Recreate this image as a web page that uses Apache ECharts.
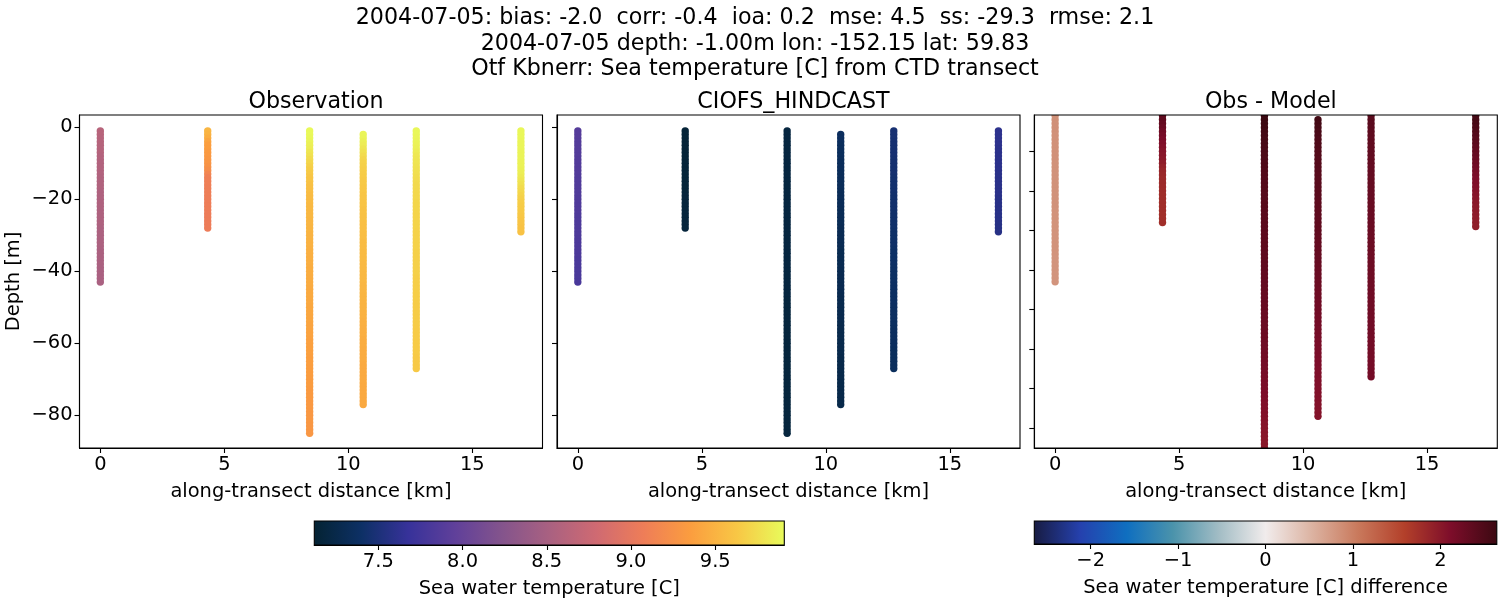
<!DOCTYPE html>
<html>
<head>
<meta charset="utf-8">
<style>html,body{margin:0;padding:0;background:#fff}#chart{width:1500px;height:600px}</style>
<script src="https://cdn.jsdelivr.net/npm/echarts@6/dist/echarts.min.js"></script>
</head>
<body>
<div id="chart"></div>
<script>
const headerLines = [
  '2004-07-05: bias: -2.0  corr: -0.4  ioa: 0.2  mse: 4.5  ss: -29.3  rmse: 2.1',
  '2004-07-05 depth: -1.00m lon: -152.15 lat: 59.83',
  'Otf Kbnerr: Sea temperature [C] from CTD transect'
];
const panelTitles = ['Observation', 'CIOFS_HINDCAST', 'Obs - Model'];

const xTicks = [0, 5, 10, 15];
const yTicks = [-80, -60, -40, -20, 0];
const diffYTicks = [-80, -70, -60, -50, -40, -30, -20, -10];
const tempTicks = [7.5, 8.0, 8.5, 9.0, 9.5];
const diffTicks = [-2, -1, 0, 1, 2];

// along-transect distance of each cast [km]
const distances = [0, 4.33, 8.44, 10.6, 12.74, 16.96];

const depth0 = [
  -1,-2,-3,-4,-5,-6,-7,-8,-9,-10,
  -11,-12,-13,-14,-15,-16,-17,-18,-19,-20,
  -21,-22,-23,-24,-25,-26,-27,-28,-29,-30,
  -31,-32,-33,-34,-35,-36,-37,-38,-39,-40,
  -41,-42,-43
];
const depth1 = [
  -1,-2,-3,-4,-5,-6,-7,-8,-9,-10,
  -11,-12,-13,-14,-15,-16,-17,-18,-19,-20,
  -21,-22,-23,-24,-25,-26,-27,-28
];
const depth2 = [
  -1,-2,-3,-4,-5,-6,-7,-8,-9,-10,
  -11,-12,-13,-14,-15,-16,-17,-18,-19,-20,
  -21,-22,-23,-24,-25,-26,-27,-28,-29,-30,
  -31,-32,-33,-34,-35,-36,-37,-38,-39,-40,
  -41,-42,-43,-44,-45,-46,-47,-48,-49,-50,
  -51,-52,-53,-54,-55,-56,-57,-58,-59,-60,
  -61,-62,-63,-64,-65,-66,-67,-68,-69,-70,
  -71,-72,-73,-74,-75,-76,-77,-78,-79,-80,
  -81,-82,-83,-84,-85
];
const depth3 = [
  -2,-3,-4,-5,-6,-7,-8,-9,-10,-11,
  -12,-13,-14,-15,-16,-17,-18,-19,-20,-21,
  -22,-23,-24,-25,-26,-27,-28,-29,-30,-31,
  -32,-33,-34,-35,-36,-37,-38,-39,-40,-41,
  -42,-43,-44,-45,-46,-47,-48,-49,-50,-51,
  -52,-53,-54,-55,-56,-57,-58,-59,-60,-61,
  -62,-63,-64,-65,-66,-67,-68,-69,-70,-71,
  -72,-73,-74,-75,-76,-77
];
const depth4 = [
  -1,-2,-3,-4,-5,-6,-7,-8,-9,-10,
  -11,-12,-13,-14,-15,-16,-17,-18,-19,-20,
  -21,-22,-23,-24,-25,-26,-27,-28,-29,-30,
  -31,-32,-33,-34,-35,-36,-37,-38,-39,-40,
  -41,-42,-43,-44,-45,-46,-47,-48,-49,-50,
  -51,-52,-53,-54,-55,-56,-57,-58,-59,-60,
  -61,-62,-63,-64,-65,-66,-67
];
const depth5 = [
  -1,-2,-3,-4,-5,-6,-7,-8,-9,-10,
  -11,-12,-13,-14,-15,-16,-17,-18,-19,-20,
  -21,-22,-23,-24,-25,-26,-27,-28,-29
];

const obs0 = [
  8.62,8.62,8.61,8.61,8.60,8.60,8.60,8.59,8.59,8.58,
  8.58,8.58,8.58,8.57,8.57,8.57,8.57,8.56,8.56,8.56,
  8.56,8.56,8.55,8.55,8.55,8.55,8.55,8.54,8.54,8.54,
  8.54,8.54,8.54,8.53,8.53,8.53,8.53,8.53,8.52,8.52,
  8.52,8.52,8.52
];
const obs1 = [
  9.52,9.50,9.46,9.40,9.36,9.35,9.33,9.32,9.30,9.28,
  9.26,9.22,9.15,9.10,9.09,9.09,9.08,9.08,9.08,9.07,
  9.07,9.07,9.07,9.06,9.06,9.06,9.06,9.06
];
const obs2 = [
  9.90,9.90,9.89,9.87,9.85,9.83,9.80,9.77,9.74,9.71,
  9.68,9.66,9.64,9.62,9.61,9.59,9.58,9.57,9.56,9.55,
  9.55,9.54,9.54,9.53,9.53,9.52,9.52,9.51,9.51,9.50,
  9.50,9.49,9.49,9.48,9.48,9.47,9.47,9.47,9.46,9.46,
  9.46,9.45,9.45,9.45,9.44,9.44,9.44,9.43,9.43,9.42,
  9.42,9.42,9.41,9.41,9.40,9.40,9.39,9.39,9.38,9.38,
  9.37,9.37,9.37,9.36,9.36,9.36,9.35,9.35,9.35,9.34,
  9.34,9.34,9.33,9.33,9.33,9.32,9.32,9.32,9.31,9.31,
  9.31,9.31,9.30,9.30,9.30
];
const obs3 = [
  9.88,9.87,9.85,9.83,9.80,9.77,9.74,9.71,9.69,9.68,
  9.67,9.66,9.65,9.64,9.64,9.63,9.63,9.62,9.62,9.61,
  9.61,9.60,9.60,9.59,9.59,9.58,9.58,9.58,9.57,9.57,
  9.56,9.56,9.56,9.55,9.55,9.55,9.54,9.54,9.54,9.53,
  9.53,9.53,9.52,9.52,9.52,9.51,9.51,9.50,9.50,9.50,
  9.49,9.49,9.48,9.48,9.47,9.47,9.47,9.46,9.46,9.46,
  9.45,9.45,9.45,9.45,9.44,9.44,9.44,9.44,9.44,9.44,
  9.43,9.43,9.43,9.43,9.43,9.43
];
const obs4 = [
  9.89,9.89,9.88,9.87,9.86,9.85,9.83,9.81,9.80,9.79,
  9.78,9.77,9.76,9.75,9.74,9.73,9.73,9.72,9.72,9.72,
  9.71,9.71,9.71,9.70,9.70,9.70,9.70,9.70,9.69,9.69,
  9.69,9.69,9.69,9.69,9.68,9.68,9.68,9.68,9.68,9.68,
  9.68,9.67,9.67,9.67,9.67,9.67,9.67,9.67,9.66,9.66,
  9.66,9.66,9.66,9.66,9.66,9.65,9.65,9.65,9.65,9.65,
  9.65,9.65,9.65,9.64,9.64,9.64,9.64
];
const obs5 = [
  9.89,9.89,9.89,9.88,9.88,9.88,9.87,9.87,9.87,9.86,
  9.86,9.85,9.84,9.82,9.79,9.77,9.74,9.72,9.70,9.68,
  9.67,9.66,9.65,9.64,9.63,9.62,9.61,9.60,9.60
];

const model0 = [
  7.88,7.88,7.88,7.87,7.87,7.87,7.87,7.87,7.86,7.86,
  7.86,7.86,7.86,7.85,7.85,7.85,7.85,7.85,7.85,7.84,
  7.84,7.84,7.84,7.84,7.83,7.83,7.83,7.83,7.83,7.83,
  7.82,7.82,7.82,7.82,7.82,7.82,7.81,7.81,7.81,7.81,
  7.81,7.81,7.80
];
const model1 = [
  7.15,7.15,7.15,7.15,7.15,7.15,7.15,7.15,7.15,7.16,
  7.16,7.16,7.16,7.16,7.16,7.16,7.16,7.16,7.17,7.17,
  7.17,7.17,7.17,7.17,7.17,7.17,7.17,7.17
];
const model2 = [
  7.19,7.19,7.19,7.19,7.19,7.19,7.19,7.19,7.19,7.19,
  7.19,7.19,7.19,7.19,7.19,7.19,7.19,7.19,7.19,7.19,
  7.19,7.19,7.19,7.19,7.19,7.19,7.19,7.19,7.19,7.19,
  7.19,7.19,7.19,7.19,7.19,7.19,7.19,7.19,7.19,7.19,
  7.19,7.19,7.19,7.19,7.19,7.19,7.19,7.18,7.18,7.18,
  7.18,7.18,7.18,7.18,7.18,7.18,7.18,7.18,7.18,7.18,
  7.18,7.18,7.18,7.18,7.18,7.18,7.18,7.18,7.18,7.18,
  7.18,7.18,7.18,7.18,7.18,7.18,7.18,7.18,7.18,7.18,
  7.18,7.18,7.18,7.18,7.18
];
const model3 = [
  7.36,7.36,7.36,7.35,7.35,7.35,7.35,7.34,7.34,7.34,
  7.34,7.33,7.33,7.33,7.33,7.33,7.32,7.32,7.32,7.32,
  7.32,7.31,7.31,7.31,7.31,7.31,7.30,7.30,7.30,7.30,
  7.30,7.30,7.29,7.29,7.29,7.29,7.29,7.29,7.28,7.28,
  7.28,7.28,7.28,7.28,7.28,7.27,7.27,7.27,7.27,7.27,
  7.27,7.27,7.27,7.26,7.26,7.26,7.26,7.26,7.26,7.26,
  7.26,7.26,7.25,7.25,7.25,7.25,7.25,7.25,7.25,7.25,
  7.25,7.25,7.25,7.25,7.25,7.25
];
const model4 = [
  7.47,7.47,7.47,7.46,7.46,7.46,7.46,7.46,7.45,7.45,
  7.45,7.45,7.45,7.44,7.44,7.44,7.44,7.44,7.43,7.43,
  7.43,7.43,7.43,7.42,7.42,7.42,7.42,7.42,7.41,7.41,
  7.41,7.41,7.41,7.40,7.40,7.40,7.40,7.40,7.39,7.39,
  7.39,7.39,7.39,7.38,7.38,7.38,7.38,7.38,7.38,7.37,
  7.37,7.37,7.37,7.37,7.37,7.36,7.36,7.36,7.36,7.36,
  7.36,7.35,7.35,7.35,7.35,7.35,7.35
];
const model5 = [
  7.61,7.61,7.61,7.61,7.61,7.60,7.60,7.60,7.60,7.60,
  7.60,7.60,7.59,7.59,7.59,7.59,7.59,7.59,7.59,7.58,
  7.58,7.58,7.58,7.58,7.58,7.58,7.57,7.57,7.57
];

const diff0 = [
  0.85,0.85,0.85,0.85,0.85,0.84,0.84,0.84,0.84,0.84,
  0.84,0.84,0.83,0.83,0.83,0.83,0.83,0.83,0.83,0.83,
  0.83,0.83,0.83,0.83,0.82,0.82,0.82,0.82,0.82,0.82,
  0.82,0.82,0.82,0.82,0.82,0.82,0.81,0.81,0.81,0.81,
  0.81,0.81,0.81
];
const diff1 = [
  2.38,2.36,2.32,2.28,2.22,2.18,2.14,2.10,2.07,2.04,
  2.02,2.00,1.95,1.90,1.86,1.84,1.82,1.81,1.80,1.79,
  1.78,1.78,1.77,1.77,1.77,1.76,1.76,1.76
];
const diff2 = [
  2.65,2.65,2.64,2.62,2.60,2.58,2.56,2.55,2.53,2.52,
  2.51,2.50,2.49,2.48,2.47,2.46,2.45,2.45,2.44,2.44,
  2.43,2.43,2.42,2.42,2.41,2.41,2.40,2.40,2.39,2.39,
  2.38,2.38,2.37,2.37,2.36,2.36,2.35,2.35,2.34,2.34,
  2.33,2.33,2.32,2.32,2.31,2.31,2.30,2.30,2.29,2.29,
  2.28,2.28,2.27,2.26,2.26,2.25,2.24,2.24,2.23,2.22,
  2.21,2.20,2.20,2.19,2.18,2.17,2.16,2.15,2.14,2.13,
  2.12,2.11,2.10,2.09,2.08,2.07,2.06,2.05,2.04,2.03,
  2.02,2.01,2.00,2.00,1.99
];
const diff3 = [
  2.60,2.58,2.56,2.54,2.52,2.50,2.49,2.48,2.47,2.46,
  2.45,2.44,2.44,2.43,2.42,2.42,2.41,2.41,2.40,2.40,
  2.39,2.38,2.38,2.37,2.37,2.36,2.36,2.35,2.35,2.34,
  2.33,2.33,2.32,2.32,2.31,2.30,2.30,2.29,2.28,2.28,
  2.27,2.26,2.26,2.25,2.24,2.24,2.23,2.22,2.22,2.21,
  2.20,2.20,2.19,2.18,2.18,2.17,2.16,2.15,2.15,2.14,
  2.13,2.12,2.12,2.11,2.10,2.10,2.09,2.09,2.08,2.08,
  2.07,2.07,2.06,2.06,2.05,2.05
];
const diff4 = [
  2.40,2.40,2.39,2.39,2.38,2.37,2.36,2.35,2.35,2.34,
  2.34,2.33,2.33,2.32,2.32,2.32,2.31,2.31,2.31,2.30,
  2.30,2.30,2.29,2.29,2.29,2.28,2.28,2.28,2.27,2.27,
  2.27,2.26,2.26,2.26,2.26,2.25,2.25,2.25,2.25,2.24,
  2.24,2.24,2.24,2.23,2.23,2.23,2.23,2.22,2.22,2.22,
  2.22,2.22,2.21,2.21,2.21,2.21,2.21,2.20,2.20,2.20,
  2.20,2.20,2.19,2.19,2.19,2.19,2.19
];
const diff5 = [
  2.58,2.56,2.54,2.51,2.48,2.45,2.42,2.39,2.36,2.33,
  2.30,2.27,2.24,2.21,2.18,2.15,2.12,2.10,2.08,2.06,
  2.04,2.02,2.00,1.98,1.97,1.96,1.95,1.94,1.93
];

const depths = [depth0, depth1, depth2, depth3, depth4, depth5];
const panelValues = [
  [obs0, obs1, obs2, obs3, obs4, obs5],
  [model0, model1, model2, model3, model4, model5],
  [diff0, diff1, diff2, diff3, diff4, diff5]
];

const tempRange = [7.12, 9.91];
const diffRange = [-2.645, 2.645];

const thermal = ['#042333', '#0d3065', '#37329a', '#60409a', '#84548c', '#a96181',
  '#cf6a72', '#ee7d58', '#fb9d3f', '#f8c745', '#e8fb5b'];
const balance = ['#181c43', '#2541ae', '#0f6fc0', '#4b93ab', '#a3bdc5', '#f1ecec',
  '#dcb3a2', '#c9795c', '#b3402a', '#7d0d2a', '#3c0912'];

const font = 'DejaVu Sans';
const axisStyle = { color: '#000', width: 1.1 };
const textBase = { fontFamily: font, fontSize: 19.44, color: '#000' };

function tickLabel(v) {
  return String(v).replace('-', '\u2212');
}

// circles go through a custom series because scatter does not clip at the frame
function renderDot(params, api) {
  const p = api.coord([api.value(0), api.value(1)]);
  return {
    type: 'circle',
    shape: { cx: p[0], cy: p[1], r: 3.7 },
    style: { fill: api.visual('color') }
  };
}

function makeOption() {
  const grids = [];
  const xAxes = [];
  const yAxes = [];
  const series = [];
  const panelLeft = [79.5, 557, 1034.3];

  panelValues.forEach((cols, p) => {
    grids.push({ left: panelLeft[p], top: 115, width: 463, height: 333, show: true,
      borderColor: '#000', borderWidth: 1.1, z: 5 });
    xAxes.push({
      gridIndex: p, type: 'value', min: -0.84, max: 17.83, splitLine: { show: false },
      axisLine: { onZero: false, lineStyle: axisStyle },
      axisTick: { length: 5, lineStyle: axisStyle, customValues: xTicks },
      axisLabel: Object.assign({ customValues: xTicks, formatter: tickLabel, margin: 7 }, textBase),
      name: 'along-transect distance [km]', nameLocation: 'middle', nameGap: 34,
      nameTextStyle: textBase
    });
    const isDiff = p === 2;
    const ticks = isDiff ? diffYTicks : yTicks;
    yAxes.push({
      gridIndex: p, type: 'value', min: isDiff ? -85 : -89.08, max: isDiff ? -0.83 : 3.42,
      splitLine: { show: false }, axisLine: { onZero: false, lineStyle: axisStyle },
      axisTick: { length: 5, lineStyle: axisStyle, customValues: ticks },
      axisLabel: Object.assign({ show: p === 0, customValues: ticks, formatter: tickLabel, margin: 7 }, textBase),
      name: p === 0 ? 'Depth [m]' : '', nameLocation: 'middle', nameGap: 56,
      nameTextStyle: textBase
    });
    const rows = [];
    cols.forEach((vals, c) => {
      vals.forEach((v, i) => rows.push([distances[c], depths[c][i], v]));
    });
    series.push({
      type: 'custom', xAxisIndex: p, yAxisIndex: p, data: rows, renderItem: renderDot,
      encode: { x: 0, y: 1 }, clip: true, silent: true, animation: false
    });
  });

  // colour bars
  const bars = [
    { left: 314.3, width: 470, top: 521, height: 24, range: tempRange, ticks: tempTicks, colors: thermal,
      name: 'Sea water temperature [C]' },
    { left: 1034.3, width: 462.5, top: 521, height: 23, range: diffRange, ticks: diffTicks, colors: balance,
      name: 'Sea water temperature [C] difference' }
  ];
  bars.forEach((b, i) => {
    const idx = 3 + i;
    grids.push({ left: b.left, top: b.top, width: b.width, height: b.height, show: true,
      borderColor: '#000', borderWidth: 1.1, z: 5 });
    xAxes.push({
      gridIndex: idx, type: 'value', min: b.range[0], max: b.range[1], splitLine: { show: false },
      axisLine: { onZero: false, lineStyle: axisStyle },
      axisTick: { length: 5, lineStyle: axisStyle, customValues: b.ticks },
      axisLabel: Object.assign({ customValues: b.ticks, margin: 7,
        formatter: v => tickLabel(i === 0 ? v.toFixed(1) : v) }, textBase),
      name: b.name, nameLocation: 'middle', nameGap: 34,
      nameTextStyle: textBase
    });
    yAxes.push({ gridIndex: idx, type: 'value', min: 0, max: 1, show: false });
    series.push({
      type: 'custom', xAxisIndex: idx, yAxisIndex: idx, silent: true, animation: false,
      data: [[b.range[0], 0, b.range[1], 1]],
      renderItem: (params, api) => {
        const a = api.coord([api.value(0), api.value(1)]);
        const c = api.coord([api.value(2), api.value(3)]);
        return {
          type: 'rect',
          shape: { x: a[0], y: c[1], width: c[0] - a[0], height: a[1] - c[1] },
          style: {
            fill: new echarts.graphic.LinearGradient(0, 0, 1, 0,
              b.colors.map((color, k) => ({ offset: k / (b.colors.length - 1), color })))
          }
        };
      }
    });
  });

  const titles = headerLines.map((text, i) => ({
    text, left: 750, textAlign: 'center', top: [2, 28, 53][i],
    textStyle: { fontFamily: font, fontWeight: 'normal', fontSize: 22.2, color: '#000' }
  }));
  panelTitles.forEach((text, i) => {
    titles.push({
      text, left: panelLeft[i] + 231.5, textAlign: 'center', top: 86,
      textStyle: { fontFamily: font, fontWeight: 'normal', fontSize: 22.2, color: '#000' }
    });
  });

  return {
    backgroundColor: '#fff',
    animation: false,
    title: titles,
    grid: grids,
    xAxis: xAxes,
    yAxis: yAxes,
    visualMap: [
      { show: false, seriesIndex: [0, 1], dimension: 2, min: tempRange[0], max: tempRange[1], inRange: { color: thermal } },
      { show: false, seriesIndex: [2], dimension: 2, min: diffRange[0], max: diffRange[1], inRange: { color: balance } }
    ],
    series
  };
}

const myChart = echarts.init(document.getElementById('chart'), null, { width: 1500, height: 600 });
myChart.setOption(makeOption());
</script>
</body>
</html>
